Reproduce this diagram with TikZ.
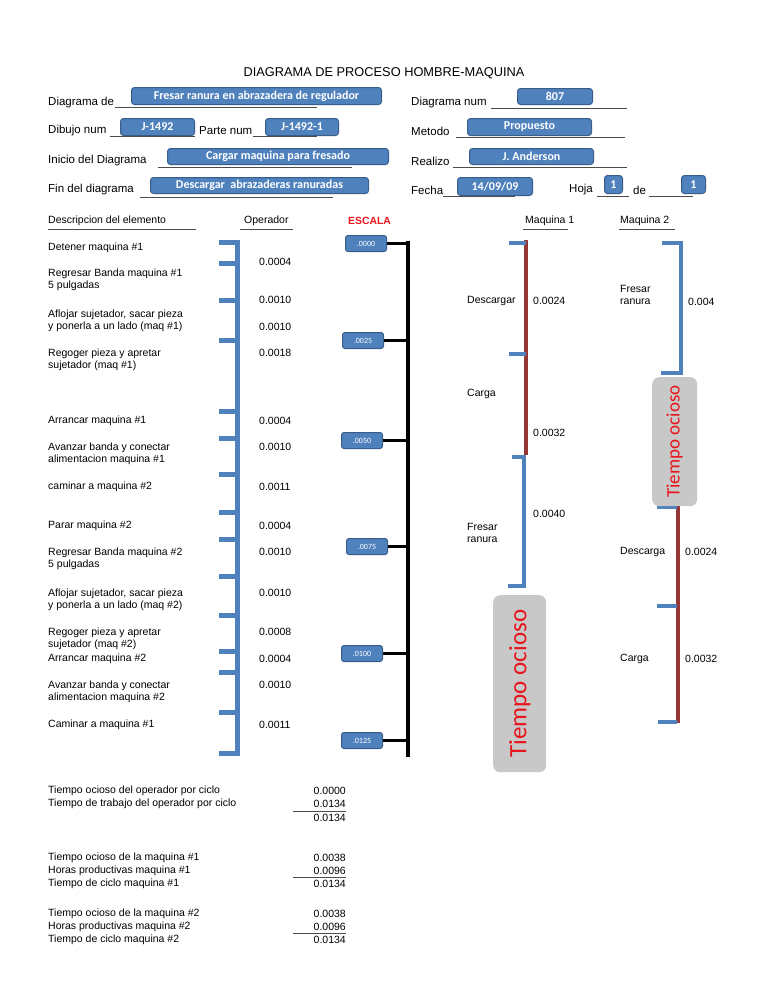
\documentclass[tikz,border=0pt]{standalone}
\usepackage{fontspec}
\setmainfont{Liberation Sans}
\newfontfamily\boxfont{Carlito}
\definecolor{boxblue}{HTML}{4F81BD}
\definecolor{boxedge}{HTML}{385D8A}
\definecolor{dred}{HTML}{953735}
\definecolor{idlegray}{HTML}{C8C8C8}
\definecolor{escred}{HTML}{E8141B}
\begin{document}
\begin{tikzpicture}[x=1pt,y=-1pt,
  every node/.style={inner sep=0pt, font=\fontsize{10.5}{12.5}\selectfont},
  lbl/.style={anchor=west, align=left},
  hlbl/.style={anchor=west, font=\fontsize{11.5}{13}\selectfont},
  val/.style={anchor=west},
  rval/.style={anchor=east},
  uline/.style={draw=black!70, line width=0.5pt},
  fbox/.style={draw=boxedge, line width=1pt, fill=boxblue, rounded corners=3pt, text=white,
     font=\boxfont\bfseries\fontsize{12}{14}\selectfont, anchor=north west},
  sbox/.style={draw=boxedge, line width=1pt, fill=boxblue, rounded corners=2.5pt, text=white,
     font=\boxfont\fontsize{8}{9}\selectfont, anchor=north west, minimum width=41, minimum height=16},
  opline/.style={draw=boxblue, line width=5pt},
  mline/.style={draw=boxblue, line width=4pt},
  rline/.style={draw=dred, line width=4.5pt},
  scl/.style={draw=black, line width=3.5pt},
  idle/.style={fill=idlegray, rounded corners=7pt, anchor=north west},
]
\useasboundingbox (0,0) rectangle (768,994);

% title
\node[font=\fontsize{12.8}{14}\selectfont] (title) at (384,73) {DIAGRAMA DE PROCESO HOMBRE-MAQUINA};

% header underlines
\draw[uline] (115,107) -- (317,107);
\draw[uline] (110,136) -- (195,136);
\draw[uline] (253,136) -- (317,136);
\draw[uline] (158,167) -- (352,167);
\draw[uline] (140,197) -- (333,197);
\draw[uline] (491,108) -- (627,108);
\draw[uline] (456,137) -- (625,137);
\draw[uline] (453,167) -- (627,167);
\draw[uline] (443,196) -- (515,196);
\draw[uline] (597,196) -- (629,196);
\draw[uline] (649,196) -- (693,196);

% header labels
\node[hlbl] (l1) at (48,103) {Diagrama de};
\node[hlbl] (l2) at (48,131) {Dibujo num};
\node[hlbl] (l3) at (199,131) {Parte num};
\node[hlbl] (l4) at (48,161) {Inicio del Diagrama};
\node[hlbl] (l5) at (48,190) {Fin del diagrama};
\node[hlbl] (r1) at (411,103) {Diagrama num};
\node[hlbl] (r2) at (411,131) {Metodo};
\node[hlbl] (r3) at (411,161) {Realizo};
\node[hlbl] (r4) at (411,190) {Fecha};
\node[hlbl] (r5) at (569,190) {Hoja};
\node[hlbl] (r6) at (633,190) {de};

% header boxes
\node[fbox, minimum width=250, minimum height=17] (b1) at (131,87) {Fresar ranura en abrazadera de regulador};
\node[fbox, minimum width=74, minimum height=17] (b2) at (120,118) {J-1492};
\node[fbox, minimum width=73, minimum height=17] (b3) at (265,118) {J-1492-1};
\node[fbox, minimum width=221, minimum height=16] (b4) at (167,148) {Cargar maquina para fresado};
\node[fbox, minimum width=218, minimum height=16] (b5) at (150,177) {Descargar\ \ abrazaderas ranuradas};
\node[fbox, minimum width=75, minimum height=16] (b6) at (517,88) {807};
\node[fbox, minimum width=124, minimum height=17] (b7) at (467,118) {Propuesto};
\node[fbox, minimum width=124, minimum height=16] (b8) at (469,148) {J. Anderson};
\node[fbox, minimum width=75, minimum height=18] (b9) at (457,177) {14/09/09};
\node[fbox, minimum width=18, minimum height=18] (b10) at (604,175) {1};
\node[fbox, minimum width=24, minimum height=18] (b11) at (681,175) {1};

% column headers
\node[lbl] (hdesc) at (48,221) {Descripcion del elemento};
\draw[uline] (48,229) -- (196,229);
\node[lbl] (hop) at (244,221) {Operador};
\draw[uline] (240,229) -- (293,229);
\node[lbl, text=escred, font=\bfseries\fontsize{10.4}{12}\selectfont] (hesc) at (348,221) {ESCALA};
\node[lbl] (hm1) at (525,221) {Maquina 1};
\draw[uline] (523,229) -- (568,229);
\node[lbl] (hm2) at (620,221) {Maquina 2};
\draw[uline] (619,229) -- (675,229);

% operator bracket
\draw[opline] (237,240) -- (237,755);
\foreach \yy in {242,263,300,340,411,438,474,512,539,576,615,651,672,712,753}
  \draw[opline] (219,\yy) -- (239.5,\yy);

% descriptions
\node[lbl] (d1) at (48,248) {Detener maquina \#1};
\node[lbl] (d2) at (48,280) {Regresar Banda maquina \#1\\5 pulgadas};
\node[lbl] (d3) at (48,321) {Aflojar sujetador, sacar pieza\\y ponerla a un lado (maq \#1)};
\node[lbl] (d4) at (48,360) {Regoger pieza y apretar\\sujetador (maq \#1)};
\node[lbl] (d5) at (48,421) {Arrancar maquina \#1};
\node[lbl] (d6) at (48,454) {Avanzar banda y conectar\\alimentacion maquina \#1};
\node[lbl] (d7) at (48,487) {caminar a maquina \#2};
\node[lbl] (d8) at (48,526) {Parar maquina \#2};
\node[lbl] (d9) at (48,559) {Regresar Banda maquina \#2\\5 pulgadas};
\node[lbl] (d10) at (48,600) {Aflojar sujetador, sacar pieza\\y ponerla a un lado (maq \#2)};
\node[lbl] (d11) at (48,639) {Regoger pieza y apretar\\sujetador (maq \#2)};
\node[lbl] (d12) at (48,659) {Arrancar maquina \#2};
\node[lbl] (d13) at (48,692) {Avanzar banda y conectar\\alimentacion maquina \#2};
\node[lbl] (d14) at (48,725) {Caminar a maquina \#1};

% operator values
\foreach \yy/\vv in {262/0.0004,300/0.0010,327/0.0010,353/0.0018,421/0.0004,447/0.0010,487/0.0011,526/0.0004,552/0.0010,593/0.0010,632/0.0008,659/0.0004,685/0.0010,725/0.0011}
  \node[val] at (259,\yy) {\vv};

% scale
\draw[scl] (408,240.5) -- (408,757);
\node[sbox] (s0) at (345,235) {.0000};
\node[sbox] (s1) at (342,332) {.0025};
\node[sbox] (s2) at (341,432) {.0050};
\node[sbox] (s3) at (346,538) {.0075};
\node[sbox] (s4) at (341,645) {.0100};
\node[sbox] (s5) at (341,732) {.0125};
\foreach \s in {s0,s1,s2,s3,s4,s5}
  \draw[scl] (\s.east) -- (\s.east -| 409.75,0);

% Maquina 1
\draw[rline] (526,240) -- (526,455);
\draw[mline] (509,243) -- (526,243);
\draw[mline] (509,354) -- (526,354);
\draw[mline] (512,457) -- (526,457);
\draw[mline] (524,455) -- (524,588);
\draw[mline] (508,586) -- (526,586);
\node[lbl] (m1a) at (467,301) {Descargar};
\node[val] at (533,301) {0.0024};
\node[lbl] (m1b) at (467,394) {Carga};
\node[val] at (533,433) {0.0032};
\node[val] at (533,514) {0.0040};
\node[lbl] (m1c) at (467,533) {Fresar\\ranura};
\node[idle, minimum width=53, minimum height=177] (i1) at (493,595) {};
\node[rotate=90, text=escred, font=\boxfont\fontsize{25}{27}\selectfont] (i1t) at (i1.center) {Tiempo ocioso};

% Maquina 2
\draw[mline] (662,243) -- (681,243) -- (681,373) -- (661,373);
\node[lbl] (m2a) at (620,295) {Fresar\\ranura};
\node[val] at (688,302) {0.004};
\draw[rline] (678,505) -- (678,723);
\draw[mline] (657,507) -- (677,507);
\draw[mline] (657,606) -- (677,606);
\draw[mline] (658,722) -- (677,722);
\node[idle, minimum width=45, minimum height=129] (i2) at (652,377) {};
\node[rotate=90, text=escred, font=\boxfont\fontsize{19}{21}\selectfont] (i2t) at (i2.center) {Tiempo ocioso};
\node[lbl] (m2b) at (620,552) {Descarga};
\node[val] at (685,552) {0.0024};
\node[lbl] (m2c) at (620,659) {Carga};
\node[val] at (685,659) {0.0032};

% summary
\node[lbl] (t1) at (48,791) {Tiempo ocioso del operador por ciclo};
\node[lbl] (t2) at (48,804) {Tiempo de trabajo del operador por ciclo};
\node[rval] at (346,791) {0.0000};
\node[rval] at (346,804) {0.0134};
\node[rval] at (346,818) {0.0134};
\draw[uline] (293,811) -- (346,811);
\node[lbl] (t3) at (48,858) {Tiempo ocioso de la maquina \#1};
\node[lbl] (t4) at (48,871) {Horas productivas maquina \#1};
\node[lbl] (t5) at (48,884) {Tiempo de ciclo maquina \#1};
\node[rval] at (346,858) {0.0038};
\node[rval] at (346,871) {0.0096};
\node[rval] at (346,884) {0.0134};
\draw[uline] (293,877.5) -- (346,877.5);
\node[lbl] (t6) at (48,914) {Tiempo ocioso de la maquina \#2};
\node[lbl] (t7) at (48,927) {Horas productivas maquina \#2};
\node[lbl] (t8) at (48,940) {Tiempo de ciclo maquina \#2};
\node[rval] at (346,914) {0.0038};
\node[rval] at (346,927) {0.0096};
\node[rval] at (346,940) {0.0134};
\draw[uline] (293,933.5) -- (346,933.5);
\end{tikzpicture}
\end{document}
